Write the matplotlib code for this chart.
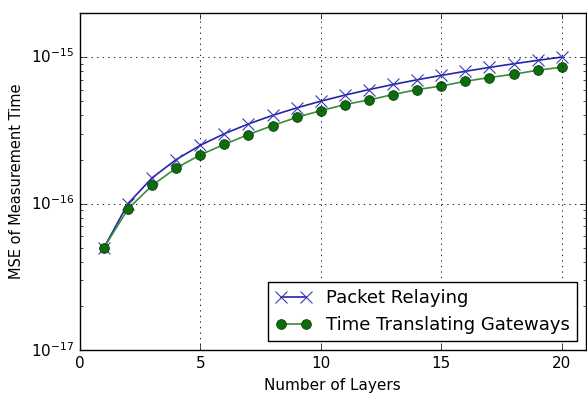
import numpy as np
import matplotlib
matplotlib.use("Agg")
import matplotlib.pyplot as plt
from matplotlib.ticker import NullFormatter

plt.style.use("classic")

# data
layers = list(range(1, 21))
packet_relaying = [5.0e-17, 1.0e-16, 1.5e-16, 2.0e-16, 2.5e-16, 3.0e-16, 3.5e-16,
                   4.0e-16, 4.5e-16, 5.0e-16, 5.5e-16, 6.0e-16, 6.5e-16, 7.0e-16,
                   7.5e-16, 8.0e-16, 8.5e-16, 9.0e-16, 9.5e-16, 1.0e-15]
time_gateways = [5.0e-17, 9.2e-17, 1.33e-16, 1.75e-16, 2.15e-16, 2.54e-16, 2.96e-16,
                 3.41e-16, 3.88e-16, 4.31e-16, 4.74e-16, 5.1e-16, 5.55e-16, 6.0e-16,
                 6.35e-16, 6.84e-16, 7.25e-16, 7.64e-16, 8.13e-16, 8.53e-16]

fig = plt.figure(figsize=(5.87, 3.93), dpi=100, facecolor="white")
ax = fig.add_axes([0.136, 0.109, 0.862, 0.858])

ax.plot(layers, packet_relaying, color="#2424a8", marker="x", markersize=8,
        markeredgecolor="#3a3ab8", markeredgewidth=0.8, linewidth=1.2,
        label="Packet Relaying")
ax.plot(layers, time_gateways, color="#3c8c3c", marker="o", markersize=7,
        markerfacecolor="#0b6e0b", markeredgecolor="#104010", markeredgewidth=0.6,
        linewidth=1.2, label="Time Translating Gateways")

ax.set_yscale("log")
ax.set_xlim(0, 21)
ax.set_ylim(1e-17, 2e-15)
ax.set_xticks([0, 5, 10, 15, 20])
ax.yaxis.set_minor_formatter(NullFormatter())
ax.grid(True, linestyle=":", color="black", linewidth=0.6)

ax.set_xlabel("Number of Layers", fontsize=11)
ax.set_ylabel("MSE of Measurement Time", fontsize=10.5)
ax.tick_params(labelsize=11)

leg = ax.legend(loc="lower right", fontsize=13, numpoints=2, fancybox=False,
                borderaxespad=0.5, handlelength=2.0)
leg.get_frame().set_linewidth(1.0)

fig.savefig("out.png", dpi=100, facecolor="white")
